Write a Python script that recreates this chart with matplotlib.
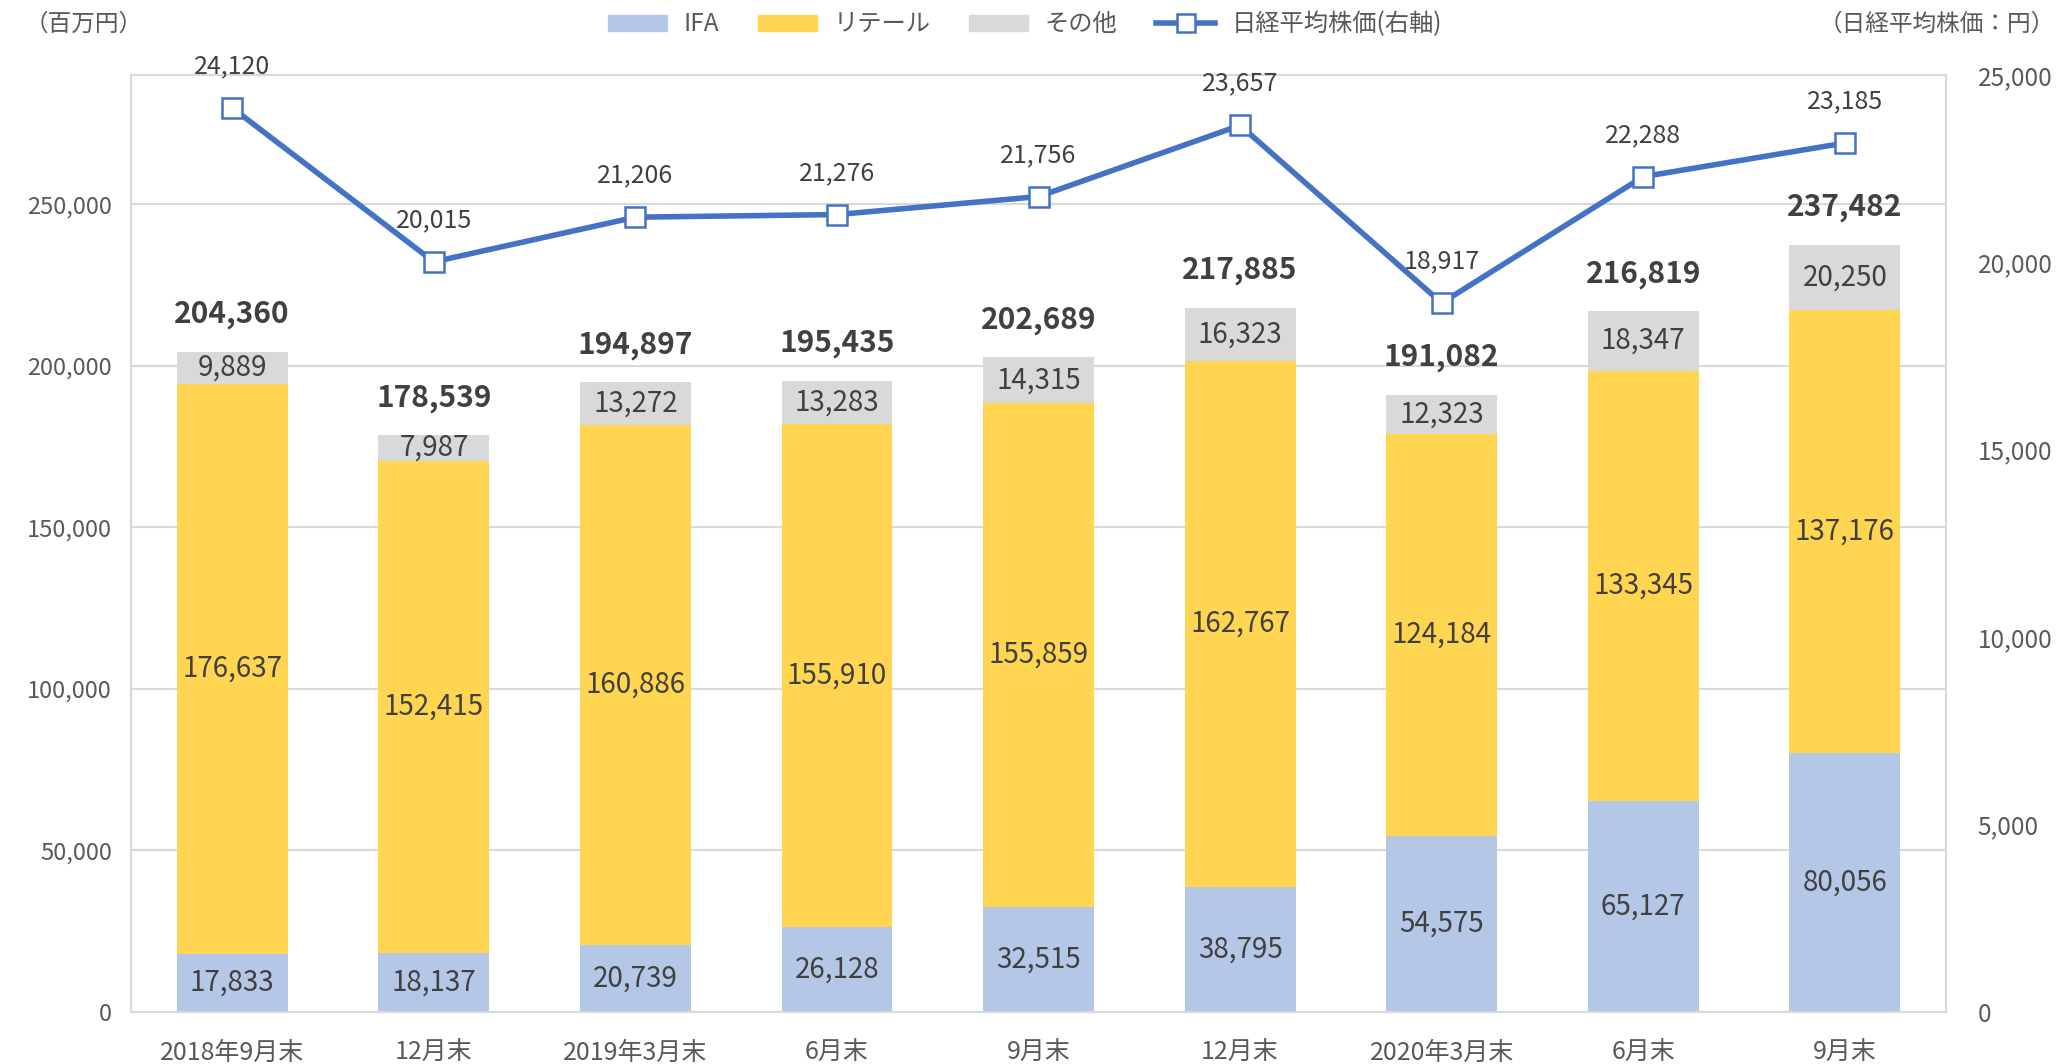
import matplotlib
matplotlib.use("Agg")
import matplotlib.pyplot as plt
from matplotlib.patches import Patch
from matplotlib.lines import Line2D

plt.rcParams['font.family'] = ['Noto Sans CJK JP', 'DejaVu Sans']

# data
categories = ['2018年9月末', '12月末', '2019年3月末', '6月末', '9月末',
              '12月末', '2020年3月末', '6月末', '9月末']
ifa = [17833, 18137, 20739, 26128, 32515, 38795, 54575, 65127, 80056]
retail = [176637, 152415, 160886, 155910, 155859, 162767, 124184, 133345, 137176]
other = [9889, 7987, 13272, 13283, 14315, 16323, 12323, 18347, 20250]
totals = [204360, 178539, 194897, 195435, 202689, 217885, 191082, 216819, 237482]
nikkei = [24120, 20015, 21206, 21276, 21756, 23657, 18917, 22288, 23185]

c_ifa = '#B4C7E7'
c_retail = '#FFD551'
c_other = '#D9D9D9'
c_line = '#4472C4'
c_text = '#404040'
c_tick = '#595959'
c_grid = '#D9D9D9'

fig = plt.figure(figsize=(20.61, 10.64), dpi=100)
ax = fig.add_axes([0.0638, 0.049, 0.8802, 0.8805])
x = list(range(len(categories)))
w = 0.55

ax.bar(x, ifa, w, color=c_ifa, zorder=2)
ax.bar(x, retail, w, bottom=ifa, color=c_retail, zorder=2)
bottom3 = [a + b for a, b in zip(ifa, retail)]
ax.bar(x, other, w, bottom=bottom3, color=c_other, zorder=2)

fs = 17
fs_bar = 20
for i in x:
    ax.text(i, ifa[i] / 2, f'{ifa[i]:,}', ha='center', va='center', fontsize=fs_bar, color=c_text, zorder=3)
    ax.text(i, ifa[i] + retail[i] / 2, f'{retail[i]:,}', ha='center', va='center', fontsize=fs_bar, color=c_text, zorder=3)
    ax.text(i, bottom3[i] + other[i] / 2, f'{other[i]:,}', ha='center', va='center', fontsize=fs_bar, color=c_text, zorder=3)
    ax.annotate(f'{totals[i]:,}', (i, totals[i]), xytext=(0, 27), textcoords='offset points',
                ha='center', va='center', fontsize=21.5, fontweight='bold', color=c_text)

ax.set_xlim(-0.5, len(categories) - 0.5)
ax.set_ylim(0, 290000)
ax.set_yticks(range(0, 250001, 50000))
ax.set_yticklabels([f'{v:,}' for v in range(0, 250001, 50000)])
ax.set_xticks(x)
ax.set_xticklabels(categories)
ax.yaxis.grid(True, color=c_grid, linewidth=1.5, zorder=0)
ax.set_axisbelow(True)
for s in ax.spines.values():
    s.set_color(c_grid)
    s.set_linewidth(1.5)
ax.tick_params(axis='x', length=0, labelsize=18, colors=c_tick, pad=20)
ax.tick_params(axis='y', length=0, labelsize=fs, colors=c_tick, pad=14)

ax2 = ax.twinx()
ax2.plot(x, nikkei, color=c_line, linewidth=4, marker='s', markersize=15,
         markerfacecolor='white', markeredgecolor=c_line, markeredgewidth=1.8, zorder=5)
for i in x:
    ax2.annotate(f'{nikkei[i]:,}', (i, nikkei[i]), xytext=(0, 30), textcoords='offset points',
                 ha='center', va='center', fontsize=18, color=c_text)
ax2.set_ylim(0, 25000)
ax2.set_yticks(range(0, 25001, 5000))
ax2.set_yticklabels([f'{v:,}' for v in range(0, 25001, 5000)])
ax2.tick_params(axis='y', length=0, labelsize=fs + 0.5, colors=c_tick, pad=23)
for s in ax2.spines.values():
    s.set_visible(False)

fig.text(0.012, 0.977, '（百万円）', fontsize=fs, color=c_tick, va='center', ha='left')
fig.text(0.997, 0.977, '（日経平均株価：円）', fontsize=fs, color=c_tick, va='center', ha='right')

handles = [Patch(color=c_ifa), Patch(color=c_retail), Patch(color=c_other),
           Line2D([], [], color=c_line, linewidth=4, marker='s', markersize=13,
                  markerfacecolor='white', markeredgecolor=c_line, markeredgewidth=1.8)]
labels = ['IFA', 'リテール', 'その他', '日経平均株価(右軸)']
fig.legend(handles, labels, loc='center', bbox_to_anchor=(0.4975, 0.977), ncol=4, frameon=False,
           fontsize=17.5, labelcolor=c_tick, handlelength=2.4, handleheight=0.6,
           columnspacing=1.6, handletextpad=0.7)

fig.savefig('out.png', dpi=100)
